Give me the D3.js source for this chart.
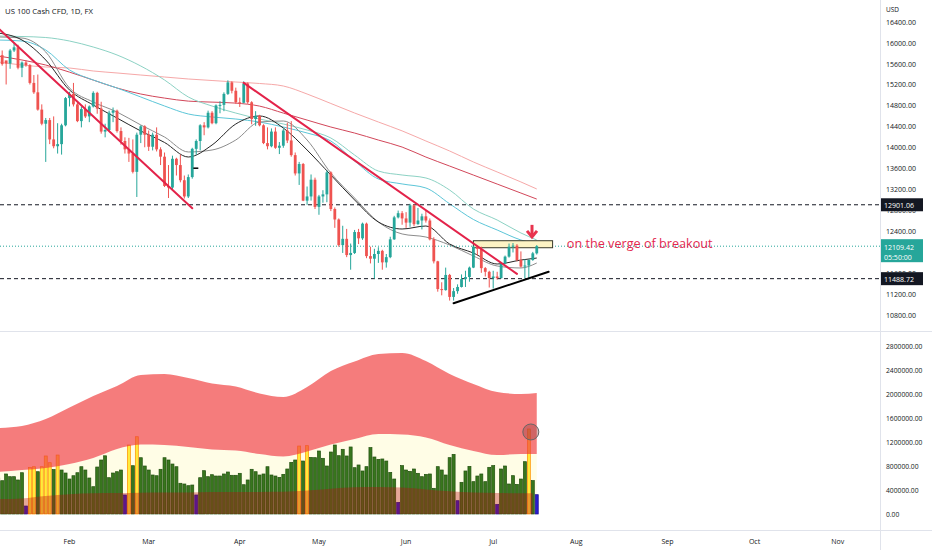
<!DOCTYPE html>
<html><head><meta charset="utf-8">
<script src="https://cdn.jsdelivr.net/npm/d3@7"></script>
<style>
html,body{margin:0;padding:0;background:#fff;}
svg{display:block;font-family:"Open Sans","Noto Sans",sans-serif;}
</style></head><body>
<svg id="c" width="932" height="550"></svg>
<script>
// ---------------- DATA ----------------
const title = "US 100 Cash CFD, 1D, FX";
const firstDay = "2022-01-06";
const lastDay = "2022-11-30";
const closedDays = ["2022-04-15"];
const monthLabels = ["Feb","Mar","Apr","May","Jun","Jul","Aug","Sep","Oct","Nov"];

// daily candles, 6 Jan 2022 .. 18 Jul 2022
const open = [15640,15760,15660,15600,15850,15910,15520,15620,15570,15230,15050,14720,14450,14520,14150,14020,14060,14420,
 14940,15020,14820,14500,14730,14590,14780,15040,14740,14300,14330,14660,14700,14310,14120,13960,13880,13530,14240,14400,
 14240,14010,14240,13960,13820,13260,13230,13780,13660,13370,13060,13430,13970,14120,14420,14380,14660,14460,14800,14810,15020,15240,15080,
 14860,14850,15220,14860,14540,14600,14420,14080,14020,14300,13990,14030,14320,14130,13850,13500,13680,12980,13060,13380,
 12860,13060,13100,13520,12820,12620,12130,12250,11940,11980,12380,12260,12540,11920,11870,11960,12020,11800,11900,12240,12660,12740,
 12640,12560,12890,12530,12600,12680,12600,12240,11820,11290,11270,11560,11140,11250,11330,11480,11520,11700,12100,12060,11690,11620,
 11500,11530,11500,11780,11910,12100,12120,11845,11720,11740,11845,11973];
const high = [15830,15850,15650,15880,15990,15960,15640,15660,15590,15380,15390,14820,14560,14560,14590,14460,14450,14960,
 15060,15230,14850,14780,14820,14800,15070,15060,14870,14450,14700,14760,14720,14380,14190,14180,14150,14280,14420,14420,
 14320,14280,14380,14000,13900,13660,13840,13800,13860,13460,13480,13990,14150,14440,14480,14700,14690,14820,14880,15050,15280,15260,15140,
 14950,15260,15240,14880,14690,14620,14440,14380,14360,14380,14100,14360,14470,14500,13900,13720,13700,13250,13480,13420,
 13090,13180,13560,13540,12850,12640,12500,12440,12160,12420,12440,12560,12560,12100,12060,12090,12040,11960,12290,12690,12790,
 12780,12760,12920,12910,12840,12730,12790,12640,12280,11830,11420,11700,11580,11310,11380,11570,11640,11720,12120,12120,12100,11710,
 11640,11640,11620,11800,11930,12160,12170,12150,12010,11860,11860,12000,12130];
const low = [15550,15560,15200,15500,15820,15490,15340,15540,15200,15020,14700,14420,13720,14060,13980,13880,13860,14400,
 14780,14780,14480,14380,14560,14480,14760,14640,14260,14190,14310,14480,14280,14050,13880,13720,13500,13050,14080,14000,
 13930,13940,13920,13660,13240,13030,13200,13460,13330,13020,13030,13400,13860,13940,14230,14360,14440,14440,14650,14690,15000,15030,14830,
 14770,14840,14830,14440,14410,14400,14060,13960,14000,13970,13870,13990,14080,13820,13460,13280,12970,12900,12980,12820,
 12710,12940,12950,12780,12460,12100,11980,11900,11660,11960,12150,12230,11880,11780,11490,11790,11660,11700,11880,12230,12640,
 12520,12460,12480,12490,12520,12430,12560,12220,11780,11240,11170,11260,11070,11070,11200,11320,11330,11430,11690,11930,11600,11530,
 11320,11300,11470,11490,11770,11890,11990,11820,11700,11490,11480,11830,11950];
const close = [15760,15590,15600,15850,15910,15520,15620,15570,15230,15050,14720,14450,14520,14150,14020,14060,14420,14940,
 15020,14820,14500,14730,14590,14780,15040,14740,14300,14330,14660,14700,14310,14120,13960,13880,13530,14240,14400,14240,
 14010,14240,13960,13820,13260,13230,13780,13660,13370,13060,13430,13970,14120,14420,14380,14660,14460,14800,14810,15020,15240,15080,14860,
 14850,15220,14860,14540,14600,14420,14080,14020,14300,13990,14030,14320,14130,13850,13500,13680,12980,13060,13380,12860,
 13060,13100,13520,12820,12620,12130,12250,11940,11980,12380,12260,12540,11920,11870,11960,12020,11800,11900,12240,12660,12740,12640,
 12560,12890,12530,12600,12680,12600,12240,11820,11290,11270,11560,11140,11250,11330,11480,11520,11700,12100,12060,11690,11620,11500,
 11530,11500,11780,11910,12100,12120,11845,11720,11740,11845,11973,12109.42];
// volume per day, thousands
const volume = [600,555,667,622,622,567,688,133,778,788,705,788,967,855,740,983,733,683,
 583,638,688,788,733,600,455,783,900,970,605,683,705,733,317,1150,805,1288,938,800,
 733,650,638,745,938,900,833,788,512,500,472,483,317,605,722,622,655,633,633,667,700,645,645,
 678,488,567,745,705,650,667,788,650,633,611,661,750,861,900,1133,883,1139,944,939,
 1050,928,800,1033,1150,972,1078,967,1117,772,817,717,789,1106,950,911,917,883,694,583,194,
 806,733,711,750,678,622,661,667,428,789,733,650,939,994,222,528,717,794,539,633,667,539,778,
 806,161,750,800,500,639,494,583,872,1417,556,322];

// moving averages read at every 6th bar (bar number from the first bar)
const maIdx = [0,6,12,18,24,30,36,42,48,54,60,66,72,78,84,90,96,102,108,114,120,126,132,136];
const maPink  = [15630,15572,15534,15515,15458,15420,15381,15343,15305,15276,15247,15219,15171,15018,14837,14655,14483,14313,14120,13929,13719,13528,13337,13203];
const maRed   = [15744,15668,15572,15436,15284,15133,15018,14940,14882,14863,14844,14787,14653,14520,14387,14272,14138,14004,13813,13641,13469,13297,13125,13010];
const maTeal  = [16127,16117,16098,16031,15916,15764,15553,15286,14961,14788,14654,14540,14445,14330,14177,13852,13546,13470,13413,13183,12820,12610,12362,12228];
const maCyan  = [16050,16031,15859,15477,15286,15133,14961,14789,14636,14579,14540,14483,14387,14273,14120,13738,13394,13299,13222,12920,12620,12419,12228,12150];
const maBlack = [16184,16050,15668,15095,14808,14559,14311,14092,13814,14043,14445,14598,14368,13948,13470,12993,12572,12438,12495,12151,11979,11769,11845,11883];
const maGray  = [16108,16088,15821,15133,14865,14674,14426,14196,13910,13948,14139,14483,14502,14139,13508,13030,12572,12343,12285,12132,11922,11731,11693,11788];

// volume bands (thousands)
const bandIdx = [0,6,12,18,24,30,36,42,48,54,60,66,72,78,84,90,96,102,108,114,120,126,132,136];
const volUpper = [1433,1467,1583,1775,1967,2133,2317,2333,2267,2175,2125,2008,1950,2117,2383,2542,2667,2683,2550,2333,2167,2033,2000,2017];
const volMid   = [700,733,767,833,933,1083,1158,1150,1117,1075,1058,1000,958,1042,1158,1250,1333,1325,1275,1150,1050,983,1000,1000];
const lowIdx = [0,6,12,18,24,30,36,42,48,54,60,66,72,78,84,90,96,102,108,114,120,126,132,135];
const volLow   = [250,260,300,330,345,350,355,360,360,365,365,368,370,390,420,445,450,440,410,380,360,350,345,345];

// drawings: [bar number, price]
const trendRed1 = [[0,16274],[49,12834]];
const trendRed2 = [[62,15230],[131,11580]];
const trendBlack = [[115,11020],[139,11620]];
const box = {from:120, to:140, top:12214, bottom:12080};
const arrow = {at:134.8, top:12517, tip:12287};
const note = {at:143.6, price:12170, text:"on the verge of breakout"};
const circleMark = {at:134.5, vol:1367};
const dashMark = {at:49.9, price:13600};
const levels = [12901.06, 11488.72];
const lastPrice = 12109.42, countdown = "05:50:00";
const priceTicks = d3.range(10800, 16401, 400);
const volTicks = d3.range(0, 2800001, 400000);

// ---------------- CALENDAR ----------------
const dates = [];
for (let d = new Date(firstDay+"T12:00:00Z"); d <= new Date(lastDay+"T12:00:00Z"); d.setUTCDate(d.getUTCDate()+1)) {
  const wd = d.getUTCDay(), s = d.toISOString().slice(0,10);
  if (wd===0 || wd===6 || closedDays.includes(s)) continue;
  dates.push(new Date(d));
}
const monthStart = monthLabels.map((m,j)=>dates.findIndex(d=>d.getUTCMonth()===j+1));

// ---------------- LAYOUT ----------------
const W=932, H=550, axisX=880, paneSep=331, timeTop=530;
const svg = d3.select("#c");
const x = d3.scaleLinear().domain([monthStart[0], monthStart[9]]).range([69.5, 837.7]);
const y = d3.scaleLinear().domain([10800,16400]).range([314.7,21.7]);
const yv = d3.scaleLinear().domain([0,2800000]).range([514,346]);

const defs = svg.append("defs");
defs.append("clipPath").attr("id","cp").append("rect").attr("x",0).attr("y",0).attr("width",axisX).attr("height",paneSep);
defs.append("clipPath").attr("id","cv").append("rect").attr("x",0).attr("y",paneSep+1).attr("width",axisX).attr("height",timeTop-paneSep-1);

const bars = close.map((c,k)=>({k, o:open[k], h:high[k], l:low[k], c, v:volume[k]*1000}));
const TEAL="#26a69a", RED="#ef5350";

// ---------------- VOLUME PANE ----------------
const gv = svg.append("g").attr("clip-path","url(#cv)");
const interp = (idx, vals, k) => {
  for (let j=0;j<idx.length-1;j++) if (k>=idx[j] && k<=idx[j+1]) {
    const t=(k-idx[j])/(idx[j+1]-idx[j]); return (vals[j]+(vals[j+1]-vals[j])*t)*1000; }
  return -1;
};
const upperPts = bandIdx.map((k,j)=>({k, hi:volUpper[j]*1000, lo:volMid[j]*1000}));
const lowPts = lowIdx.map((k,j)=>({k, v:volLow[j]*1000}));
const curve = d3.curveMonotoneX;
gv.append("path").datum(upperPts).attr("fill","#fffde6")
  .attr("d", d3.area().x(d=>x(d.k)).y0(yv(0)).y1(d=>yv(d.lo)).curve(curve));
const bw = 3;
gv.selectAll("rect.vb").data(bars).join("rect").attr("class","vb")
  .attr("x",d=>x(d.k)-bw/2).attr("width",bw)
  .attr("y",d=>yv(d.v)).attr("height",d=>yv(0)-yv(d.v))
  .each(function(d){
    const mid = interp(bandIdx, volMid, d.k), lo = interp(lowIdx, volLow, d.k);
    let f="#38761d", s="#21500f";
    if (d.v > mid) { f="#ffeb3b"; s="#ff8f00"; }
    else if (lo<0 || d.v < lo) { f="#2a1bd0"; s="#1a0f90"; }
    d3.select(this).attr("fill",f).attr("stroke",s).attr("stroke-width",0.7);
  });
gv.append("path").datum(upperPts).attr("fill","rgb(240,60,60)").attr("fill-opacity",0.67)
  .attr("d", d3.area().x(d=>x(d.k)).y0(d=>yv(d.lo)).y1(d=>yv(d.hi)).curve(curve));
gv.append("path").datum(lowPts).attr("fill","rgb(185,15,15)").attr("fill-opacity",0.36)
  .attr("d", d3.area().x(d=>x(d.k)).y0(yv(0)).y1(d=>yv(d.v)).curve(curve));
gv.append("circle").attr("cx",x(circleMark.at)).attr("cy",yv(circleMark.vol*1000)).attr("r",8)
  .attr("fill","rgba(140,60,60,0.35)").attr("stroke","#666").attr("stroke-width",1);

// ---------------- PRICE PANE ----------------
const gp = svg.append("g").attr("clip-path","url(#cp)");
const maLine = vals => d3.line().x((d,j)=>x(maIdx[j])).y(d=>y(d)).curve(d3.curveMonotoneX)(vals);
[[maPink,"#f6a8a8"],[maRed,"#d2475a"],[maTeal,"#8cd2c4"],[maCyan,"#5cc6d8"],[maGray,"#8c8c8c"],[maBlack,"#262626"]]
 .forEach(([v,c])=>gp.append("path").attr("d",maLine(v)).attr("fill","none").attr("stroke",c).attr("stroke-width",1));

gp.selectAll("line.lvl").data(levels).join("line").attr("class","lvl")
  .attr("x1",0).attr("x2",axisX).attr("y1",d=>y(d)).attr("y2",d=>y(d))
  .attr("stroke","#131722").attr("stroke-width",1).attr("stroke-dasharray","4,3");
gp.append("line").attr("x1",0).attr("x2",axisX).attr("y1",y(lastPrice)).attr("y2",y(lastPrice))
  .attr("stroke",TEAL).attr("stroke-width",1).attr("stroke-dasharray","1,2");

gp.append("rect").attr("x",x(box.from)).attr("width",x(box.to)-x(box.from))
  .attr("y",y(box.top)).attr("height",y(box.bottom)-y(box.top))
  .attr("fill","#fdf3c4").attr("stroke","#3a3a2a").attr("stroke-width",1);

const cw = 2.8;
const cg = gp.selectAll("g.cd").data(bars).join("g").attr("class","cd")
  .attr("fill",d=>d.c>=d.o?TEAL:RED).attr("stroke",d=>d.c>=d.o?TEAL:RED);
cg.append("line").attr("x1",d=>x(d.k)).attr("x2",d=>x(d.k)).attr("y1",d=>y(d.h)).attr("y2",d=>y(d.l)).attr("stroke-width",1);
cg.append("rect").attr("x",d=>x(d.k)-cw/2).attr("width",cw)
  .attr("y",d=>y(Math.max(d.o,d.c))).attr("height",d=>Math.max(1,Math.abs(y(d.o)-y(d.c)))).attr("stroke","none");

const tl = (pts,c)=>gp.append("line").attr("x1",x(pts[0][0])).attr("y1",y(pts[0][1])).attr("x2",x(pts[1][0])).attr("y2",y(pts[1][1]))
  .attr("stroke",c).attr("stroke-width",2).attr("stroke-linecap","round");
tl(trendRed1,"#e3234a"); tl(trendRed2,"#e3234a"); tl(trendBlack,"#000");
gp.append("line").attr("x1",x(dashMark.at)-2.5).attr("x2",x(dashMark.at)+2.5).attr("y1",y(dashMark.price)).attr("y2",y(dashMark.price)).attr("stroke","#000").attr("stroke-width",1.5);
const ax = x(arrow.at), at = y(arrow.top), ap = y(arrow.tip);
gp.append("line").attr("x1",ax).attr("x2",ax).attr("y1",at).attr("y2",ap-2).attr("stroke","#e8344e").attr("stroke-width",3);
gp.append("path").attr("d",`M${ax-5},${ap-6}L${ax},${ap}L${ax+5},${ap-6}`).attr("fill","none").attr("stroke","#e8344e").attr("stroke-width",3).attr("stroke-linejoin","miter");
const nt = gp.append("text").attr("x",x(note.at)).attr("y",y(note.price)).attr("dominant-baseline","central")
  .attr("fill","#e3284f").attr("font-size",13).text(note.text);
function fit(sel,target){const w=sel.node().getComputedTextLength();const fs=parseFloat(sel.attr("font-size"));const n=fs*target/w;sel.attr("font-size",n);return n;}
fit(nt,146);

// ---------------- AXES / FRAME ----------------
svg.append("line").attr("x1",axisX+0.5).attr("x2",axisX+0.5).attr("y1",0).attr("y2",H).attr("stroke","#e0e3eb");
svg.append("line").attr("x1",0).attr("x2",W).attr("y1",paneSep+0.5).attr("y2",paneSep+0.5).attr("stroke","#e0e3eb");
svg.append("line").attr("x1",0).attr("x2",W).attr("y1",timeTop+0.5).attr("y2",timeTop+0.5).attr("stroke","#e0e3eb");

const tt = svg.append("text").attr("x",5).attr("y",11).attr("dominant-baseline","central").attr("fill","#131722").attr("font-size",11).text(title);
fit(tt,88);

const fmt = d3.format(".2f");
// price-axis boxes (for hiding tick labels under them)
const boxesY = levels.map(p=>[y(p)-6.5, y(p)+6.5]).concat([[y(lastPrice)-7, y(lastPrice)+16]]);
const pa = svg.append("g");
const probe = pa.append("text").attr("font-size",10).text(fmt(16400));
const pfs = fit(probe,30); probe.remove();
priceTicks.forEach(t=>{
  const yy=y(t), top=yy-5, bot=yy+5;
  const cover = boxesY.find(b=>bot>b[0] && top<b[1]);
  if (cover && top>=cover[0]-1 && bot<=cover[1]+1) return; // fully hidden
  const tx = pa.append("text").attr("x",886).attr("y",yy).attr("dominant-baseline","central")
    .attr("fill","#131722").attr("font-size",pfs).text(fmt(t));
  if (cover) {
    const id="clip"+t;
    const r = yy<cover[0]+6 ? [yy-8, cover[0]-yy+8] : [cover[1], yy+8-cover[1]];
    defs.append("clipPath").attr("id",id).append("rect").attr("x",880).attr("y",r[0]).attr("width",52).attr("height",Math.max(0,r[1]));
    tx.attr("clip-path",`url(#${id})`);
  }
});
svg.append("text").attr("x",886).attr("y",9).attr("dominant-baseline","central").attr("fill","#131722").attr("font-size",pfs*0.92).text("USD");

const va = svg.append("g");
const vl = va.selectAll("text").data(volTicks).join("text").attr("x",886).attr("y",d=>yv(d)).attr("dominant-baseline","central")
  .attr("fill","#131722").attr("font-size",10).text(d=>fmt(d));
const vfs = fit(vl.filter(d=>d===2800000),36.5); vl.attr("font-size",vfs);

levels.forEach(p=>{
  const yy=y(p);
  svg.append("rect").attr("x",axisX+1).attr("y",yy-6.5).attr("width",42).attr("height",13).attr("fill","#131722");
  svg.append("text").attr("x",884).attr("y",yy).attr("dominant-baseline","central").attr("fill","#fff").attr("font-size",pfs).text(fmt(p));
});
{
  const yy=y(lastPrice);
  svg.append("rect").attr("x",axisX+1).attr("y",yy-7).attr("width",42).attr("height",23).attr("fill",TEAL);
  svg.append("text").attr("x",884).attr("y",yy+0.5).attr("dominant-baseline","central").attr("fill","#fff").attr("font-size",pfs).text(fmt(lastPrice));
  svg.append("text").attr("x",884).attr("y",yy+10.5).attr("dominant-baseline","central").attr("fill","#fff").attr("font-size",pfs).text(countdown);
}

svg.append("g").selectAll("text").data(monthLabels).join("text")
  .attr("x",(d,j)=>x(monthStart[j])).attr("y",541).attr("text-anchor","middle").attr("dominant-baseline","central")
  .attr("fill","#131722").attr("font-size",pfs).text(d=>d);
</script>
</body></html>
